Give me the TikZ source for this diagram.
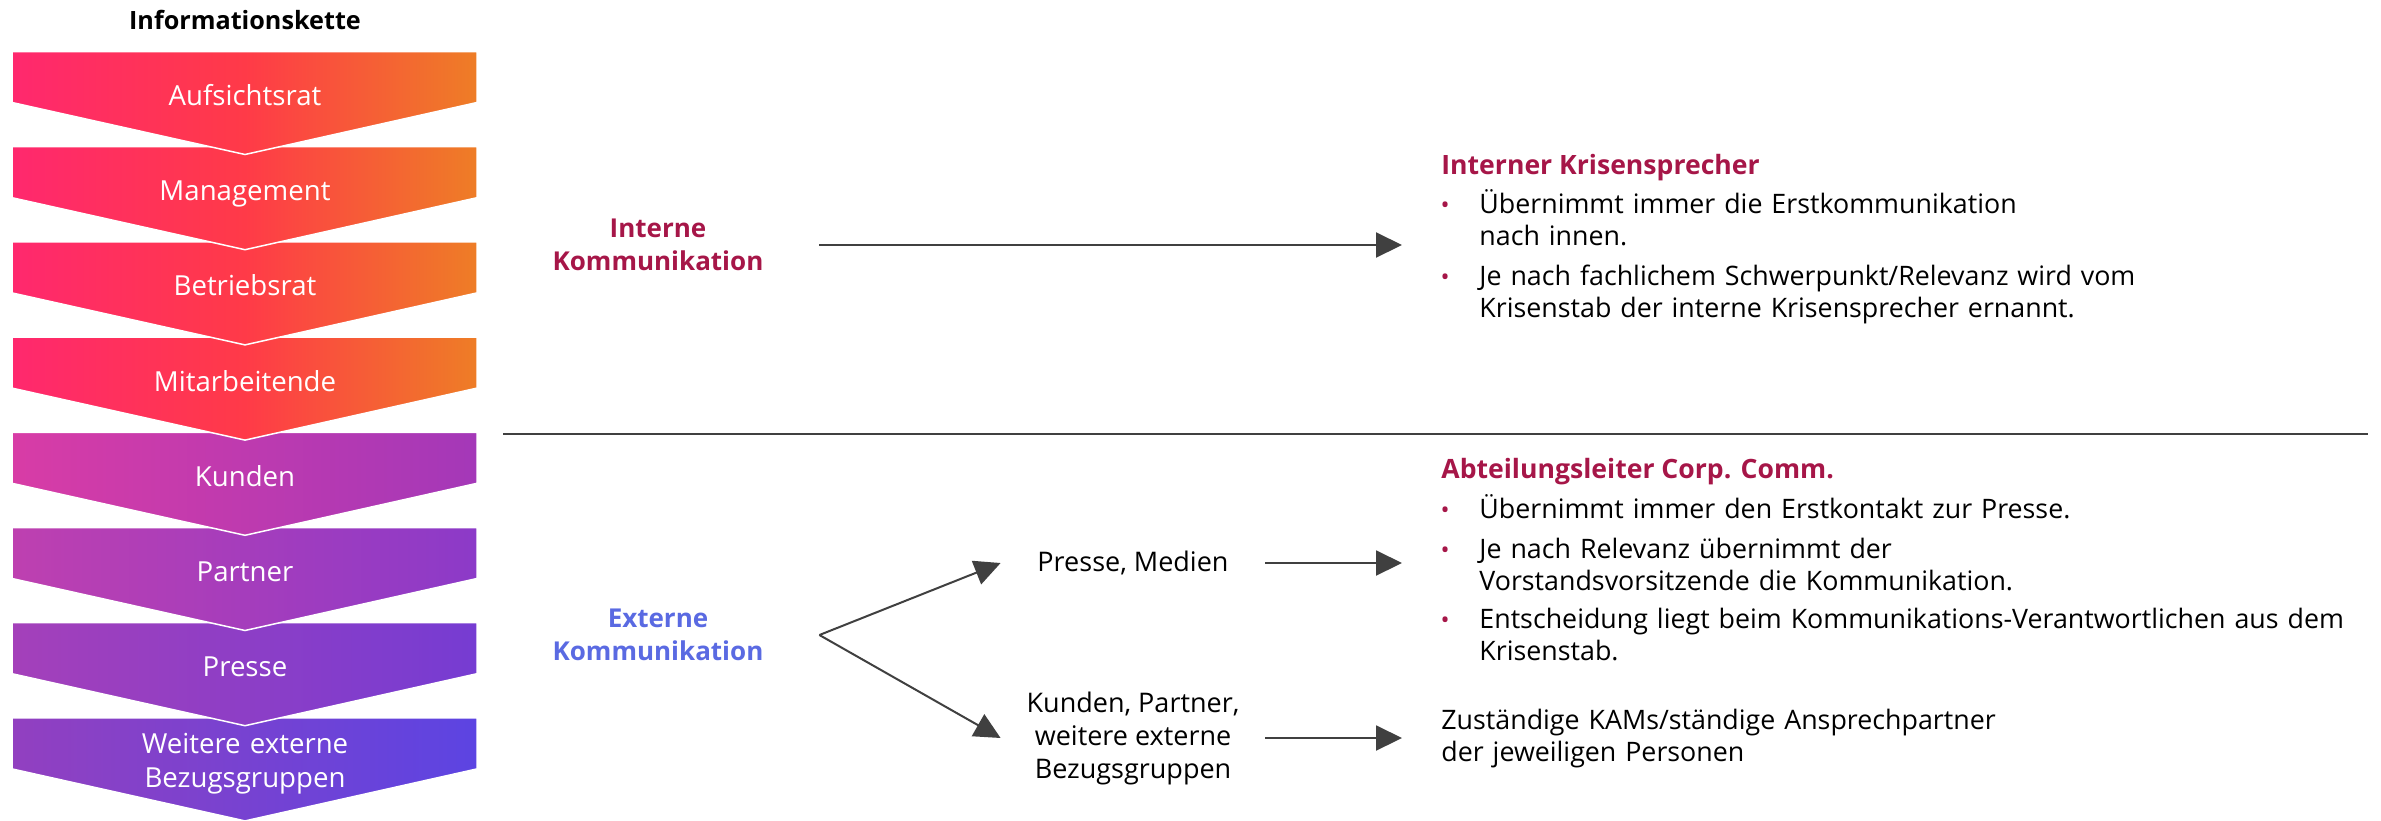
\documentclass[tikz,border=0pt]{standalone}
\usepackage{fontspec}
\setmainfont{Open Sans}
\usetikzlibrary{arrows.meta,positioning,calc}

\definecolor{krisenrot}{RGB}{166,22,72}
\definecolor{extblau}{RGB}{90,106,226}
\definecolor{pfeilgrau}{RGB}{64,64,64}
\definecolor{pinkL}{RGB}{255,40,110}
\definecolor{rotM}{RGB}{255,58,72}
\definecolor{orangeR}{RGB}{238,125,38}
\definecolor{lilaA}{RGB}{216,60,166}
\definecolor{violettA}{RGB}{164,56,184}
\definecolor{lilaB}{RGB}{190,64,176}
\definecolor{violettB}{RGB}{140,58,200}
\definecolor{lilaC}{RGB}{164,64,186}
\definecolor{violettC}{RGB}{118,60,210}
\definecolor{lilaD}{RGB}{146,64,192}
\definecolor{violettD}{RGB}{92,68,226}

\tikzset{
  kette/.style={text=white, font=\fontsize{13.8}{17}\selectfont, text width=220pt, align=center, inner sep=0pt, anchor=base},
  titel/.style={font=\bfseries\fontsize{12.6}{15}\selectfont, inner sep=0pt},
  kanal/.style={font=\bfseries\fontsize{13}{16.5}\selectfont, align=center, minimum width=161pt, inner sep=0pt},
  ziel/.style={font=\fontsize{13.5}{16.5}\selectfont, align=center, minimum width=132pt, inner sep=0pt},
  kopf/.style={text=krisenrot, font=\bfseries\fontsize{13.3}{16}\selectfont, anchor=base west, inner sep=0pt},
  punkttext/.style={font=\fontsize{13.4}{16}\selectfont, text width=460pt, align=left, anchor=base west, inner sep=0pt},
  punkt/.style={text=krisenrot, font=\fontsize{12}{16}\selectfont, anchor=base, inner sep=0pt},
  pfeil/.style={draw=pfeilgrau, line width=1pt, -{Triangle[length=13pt,width=12.5pt]}},
  trenner/.style={draw=pfeilgrau, line width=1pt}
}

\begin{document}
\begin{tikzpicture}[x=0.5pt,y=-0.5pt]
\useasboundingbox (0,0) rectangle (2381,820);

\node[titel] (titel) at (245,20) {Informationskette};

% Kette von unten nach oben, damit die Spitzen oben liegen
\foreach \i/\txt/\lc/\mc/\rc/\dy in {
  7/{Weitere externe\\Bezugsgruppen}/lilaD/lilaD!50!violettD/violettD/36,
  6/Presse/lilaC/lilaC!50!violettC/violettC/54,
  5/Partner/lilaB/lilaB!50!violettB/violettB/54,
  4/Kunden/lilaA/lilaA!50!violettA/violettA/54,
  3/Mitarbeitende/pinkL/rotM/orangeR/54,
  2/Betriebsrat/pinkL/rotM/orangeR/54,
  1/Management/pinkL/rotM/orangeR/54,
  0/Aufsichtsrat/pinkL/rotM/orangeR/54}{
  \pgfmathsetmacro{\y}{51.5+95.2*\i}
  \path[left color=\lc, right color=\rc, middle color=\mc, draw=white, line width=0.75pt]
    (12,\y) -- (477,\y) -- (477,\y+51) -- (245,\y+103) -- (12,\y+51) -- cycle;
  \node[kette] (k\i) at (245,\y+\dy) {\txt};
}

% Kanaele
\node[kanal, text=krisenrot] (intern) at (658,245) {Interne\\Kommunikation};
\node[kanal, text=extblau] (extern) at (658,635) {Externe\\Kommunikation};
\node[ziel] (presse) at (1133,563) {Presse, Medien};
\node[ziel] (kbz) at (1133,738) {Kunden, Partner,\\weitere externe\\Bezugsgruppen};

\draw[trenner] (503,434) -- (2368,434);

% intern
\node[kopf] (ikr) at (1441,174) {Interner Krisensprecher};
\node[punkt] (ikr1p) at (1445,213) {•};
\node[punkttext] (ikr1) at (1479,213) {Übernimmt immer die Erstkommunikation\\nach innen.};
\node[punkt] (ikr2p) at (1445,285) {•};
\node[punkttext] (ikr2) at (1479,285) {Je nach fachlichem Schwerpunkt/Relevanz wird vom\\Krisenstab der interne Krisensprecher ernannt.};

% extern
\node[kopf] (akc) at (1441,478) {Abteilungsleiter Corp. Comm.};
\node[punkt] (akc1p) at (1445,518) {•};
\node[punkttext] (akc1) at (1479,518) {Übernimmt immer den Erstkontakt zur Presse.};
\node[punkt] (akc2p) at (1445,558) {•};
\node[punkttext] (akc2) at (1479,558) {Je nach Relevanz übernimmt der\\Vorstandsvorsitzende die Kommunikation.};
\node[punkt] (akc3p) at (1445,628) {•};
\node[punkttext] (akc3) at (1479,628) {Entscheidung liegt beim Kommunikations-Verantwortlichen aus dem\\Krisenstab.};
\node[punkttext] (kam) at (1441,729) {Zuständige KAMs/ständige Ansprechpartner\\der jeweiligen Personen};

% Pfeile
\draw[pfeil, shorten >=19.5pt] (intern.east) -- (intern.east -| ikr.west);
\draw[pfeil] (extern.east) -- (presse.west);
\draw[pfeil] (extern.east) -- (kbz.west);
\draw[pfeil, shorten >=19.5pt] (presse.east) -- (presse.east -| akc.west);
\draw[pfeil, shorten >=19.5pt] (kbz.east) -- (kbz.east -| kam.west);
\end{tikzpicture}
\end{document}
